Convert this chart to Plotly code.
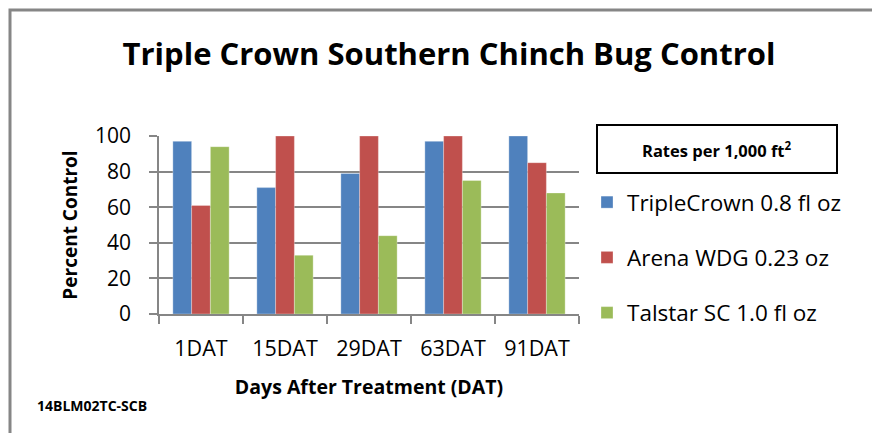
import plotly.graph_objects as go

categories = ["1DAT", "15DAT", "29DAT", "63DAT", "91DAT"]
triplecrown = [97, 71, 79, 97, 100]
arena = [61, 100, 100, 100, 85]
talstar = [94, 33, 44, 75, 68]
series_names = ["TripleCrown 0.8 fl oz", "Arena WDG 0.23 oz", "Talstar SC 1.0 fl oz"]
colors = ["#4F81BD", "#C0504D", "#9BBB59"]
y_ticks = [0, 20, 40, 60, 80, 100]

W, H = 876, 433
L, R, T, B = 159, 297, 136, 119
PW, PH = W - L - R, H - T - B
FONT = "Open Sans"
GRID = "#868686"

def px(x):
    return (x - L) / PW

def py(y):
    return (H - B - y) / PH

fig = go.Figure()
for i, (name, vals) in enumerate(zip(series_names, [triplecrown, arena, talstar])):
    fig.add_trace(go.Bar(
        x=categories, y=vals, name=name, legendgroup=str(i),
        marker=dict(color=colors[i], line=dict(color="rgba(255,255,255,0.6)", width=0.5)),
    ))

fig.update_layout(
    width=W, height=H,
    margin=dict(l=L, r=R, t=T, b=B, autoexpand=False),
    paper_bgcolor="white", plot_bgcolor="white",
    barmode="group", bargap=0.33, bargroupgap=0,
    font=dict(family=FONT, color="black", size=21),
    title=dict(text="<b>Triple Crown Southern Chinch Bug Control</b>",
               x=449 / W, xanchor="center", xref="container",
               y=1 - 54 / H, yanchor="middle", yref="container",
               font=dict(size=31, family=FONT, color="black")),
    legend=dict(x=px(587), xanchor="left", y=py(181), yanchor="top",
                font=dict(size=22.5, family=FONT), tracegroupgap=23,
                bgcolor="rgba(0,0,0,0)", itemclick=False),
    showlegend=True,
)

fig.update_xaxes(
    type="category", showline=True, linecolor=GRID, linewidth=1.5,
    ticks="outside", tickson="boundaries", ticklen=8, tickcolor=GRID, tickwidth=1.5,
    showgrid=False, tickfont=dict(size=21.5, family=FONT),
    ticklabelstandoff=14,
    title=dict(text="<b>Days After Treatment (DAT)</b>", font=dict(size=19.5, family=FONT), standoff=20),
)
fig.update_yaxes(
    range=[0, 100], tickvals=y_ticks, showline=True, linecolor=GRID, linewidth=1.5,
    ticks="outside", ticklen=8, tickcolor=GRID, tickwidth=1.5,
    showgrid=True, gridcolor=GRID, gridwidth=1.5, zeroline=False,
    tickfont=dict(size=21, family=FONT), ticklabelstandoff=14,
    title=dict(text="<b>Percent Control</b>", font=dict(size=19, family=FONT), standoff=12),
)

# legend title box
fig.add_shape(type="rect", xref="paper", yref="paper",
              x0=px(597), x1=px(837), y0=py(173), y1=py(125),
              line=dict(color="black", width=2), fillcolor="rgba(0,0,0,0)")
fig.add_annotation(xref="paper", yref="paper", x=px(717), y=py(150),
                   text="<b>Rates per 1,000 ft<sup>2</sup></b>", showarrow=False,
                   font=dict(size=16.5, family=FONT, color="black"),
                   xanchor="center", yanchor="middle")
# source note
fig.add_annotation(xref="paper", yref="paper", x=px(35), y=py(405),
                   text="<b>14BLM02TC-SCB</b>", showarrow=False,
                   font=dict(size=14, family=FONT, color="black"),
                   xanchor="left", yanchor="middle")
# chart border (top and left visible) as one open path
fig.add_shape(type="path", xref="paper", yref="paper",
              path=f"M {px(10)},{py(433)} L {px(10)},{py(10)} L {px(872)},{py(10)}",
              line=dict(color="#868686", width=3), fillcolor="rgba(0,0,0,0)")

fig.write_html("out.html", config={"displayModeBar": False},
               post_script="document.body.style.margin='0';document.body.style.overflow='hidden';document.documentElement.style.overflow='hidden';")
